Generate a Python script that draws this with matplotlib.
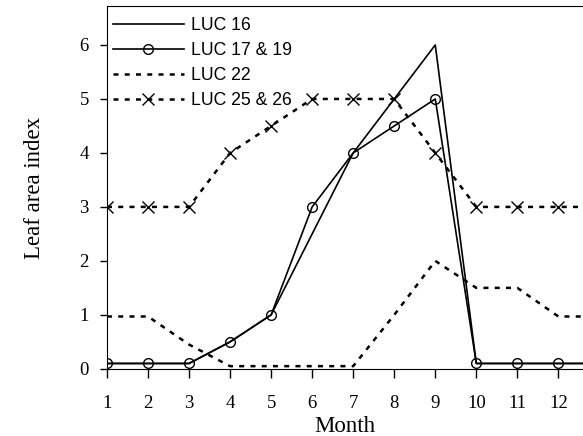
import matplotlib
matplotlib.use("Agg")
import matplotlib.pyplot as plt

# month 13 is off the right edge; the lines run flat out of the frame
months = [1, 2, 3, 4, 5, 6, 7, 8, 9, 10, 11, 12, 13]
tick_months = [1, 2, 3, 4, 5, 6, 7, 8, 9, 10, 11, 12]
luc16 = [0.1, 0.1, 0.1, 0.5, 1.0, 2.5, 4.0, 5.0, 6.0, 0.1, 0.1, 0.1, 0.1]
luc17_19 = [0.1, 0.1, 0.1, 0.5, 1.0, 3.0, 4.0, 4.5, 5.0, 0.1, 0.1, 0.1, 0.1]
luc22 = [0.97, 0.97, 0.45, 0.05, 0.05, 0.05, 0.05, 1.0, 2.0, 1.5, 1.5, 0.97, 0.97]
luc25_26 = [3.0, 3.0, 3.0, 4.0, 4.5, 5.0, 5.0, 5.0, 4.0, 3.0, 3.0, 3.0, 3.0]

serif = "Liberation Serif"
sans = "Liberation Sans"

fig = plt.figure(figsize=(5.83, 4.36), dpi=100)
ax = fig.add_axes([0.1835, 0.154, 0.8165, 0.832])

ax.plot(months, luc16, color="black", lw=1.2, label="LUC 16")
ax.plot(months, luc17_19, color="black", lw=1.2, marker="o", ms=7,
        mfc="none", mec="black", mew=1.0, label="LUC 17 & 19")
ax.plot(months, luc22, color="black", lw=1.8, ls=(0, (2, 2.5)), label="LUC 22")
ax.plot(months, luc25_26, color="black", lw=1.8, ls=(0, (2, 2.5)), marker="x",
        ms=8, mew=1.0, label="LUC 25 & 26")

ax.set_xlim(1, 12.6)
ax.set_ylim(0, 6.72)
ax.set_xticks(tick_months)
ax.set_yticks([0, 1, 2, 3, 4, 5, 6])
ax.tick_params(direction="out", width=1, labelsize=13.5)
ax.tick_params(axis="x", length=6.5, pad=12.5)
ax.tick_params(axis="y", length=5, pad=8)
for lab in ax.get_xticklabels() + ax.get_yticklabels():
    lab.set_fontfamily(serif)
ax.set_xlabel("Month", fontfamily=serif, fontsize=16.5, labelpad=3)
ax.set_ylabel("Leaf area index", fontfamily=serif, fontsize=16.5, labelpad=25)
ax.spines["right"].set_visible(False)

ax.legend(loc="upper left", bbox_to_anchor=(0.0, 0.986), frameon=False,
          handlelength=4.0, labelspacing=0.45, handletextpad=0.4,
          borderaxespad=0.0, borderpad=0.35, numpoints=1,
          prop={"family": sans, "size": 12.7})

fig.savefig("out.png", dpi=100)
